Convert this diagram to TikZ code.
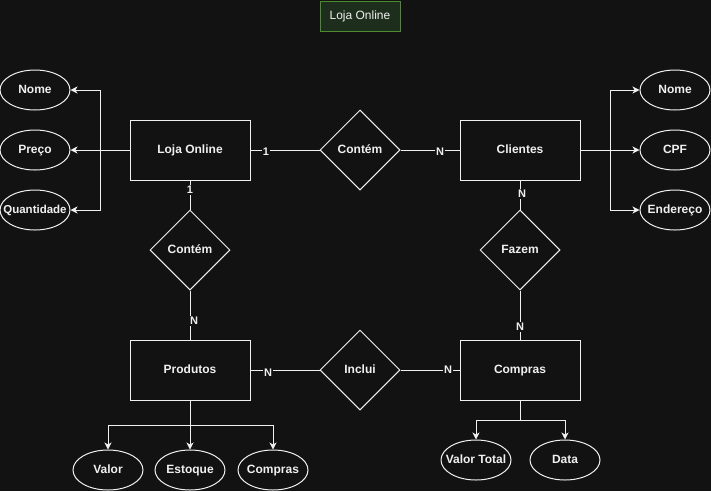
\documentclass[tikz,border=0pt]{standalone}
\usepackage{fontspec}
\setmainfont{Liberation Sans}
\usetikzlibrary{shapes.geometric,arrows.meta}
\definecolor{bg}{HTML}{121212}
\definecolor{fg}{HTML}{F0F0F0}
\definecolor{tfill}{HTML}{1E2E1C}
\definecolor{tborder}{HTML}{4C8C2E}
\newcommand{\zb}[1]{\makebox[0pt]{#1}}
\tikzset{
  ent/.style={draw=fg, line width=1pt, fill=bg, minimum width=120pt, minimum height=60pt, inner sep=0pt, text=fg, text height=9pt, text depth=2.5pt, font=\fontsize{12}{14}\selectfont\bfseries},
  rel/.style={draw=fg, line width=1pt, fill=bg, diamond, minimum width=80pt, minimum height=80pt, inner sep=0pt, text=fg, text height=9pt, text depth=2.5pt, font=\fontsize{12}{14}\selectfont\bfseries},
  attr/.style={draw=fg, line width=1pt, fill=bg, ellipse, minimum width=70pt, minimum height=40pt, inner sep=0pt, text=fg, text height=9pt, text depth=2.5pt, font=\fontsize{12}{14}\selectfont\bfseries},
  conn/.style={draw=fg, line width=1pt},
  arr/.style={draw=fg, line width=1pt, -{Stealth[length=7pt,width=7pt,inset=2pt]}},
  card/.style={fill=bg, text=fg, inner sep=1pt, font=\fontsize{11}{12}\selectfont\bfseries},
}
\begin{document}
\begin{tikzpicture}[x=1pt,y=-1pt]
\fill[bg] (0,0) rectangle (711,491);
\useasboundingbox (0,0) rectangle (711,491);
% title
\node[draw=tborder, fill=tfill, line width=1pt, minimum width=80pt, minimum height=30pt, inner sep=0pt, text=fg, text height=9pt, text depth=2.5pt, font=\fontsize{12}{14}\selectfont] (title) at (360,16) {Loja Online};
% entities
\node[ent] (loja) at (190,150) {Loja Online};
\node[ent] (cli) at (520,150) {Clientes};
\node[ent] (prod) at (190,370) {Produtos};
\node[ent] (comp) at (520,370) {Compras};
% relationships
\node[rel] (contem1) at (360,150) {\zb{Contém}};
\node[rel] (contem2) at (190,250) {\zb{Contém}};
\node[rel] (fazem) at (520,250) {\zb{Fazem}};
\node[rel] (inclui) at (360,370) {\zb{Inclui}};
% attributes
\node[attr] (lnome) at (35,90) {\zb{Nome}};
\node[attr] (lpreco) at (35,150) {\zb{Preço}};
\node[attr] (lqtd) at (35,210) {\zb{\fontsize{11.5}{14}\selectfont Quantidade}};
\node[attr] (cnome) at (675,90) {\zb{Nome}};
\node[attr] (ccpf) at (675,150) {\zb{CPF}};
\node[attr] (cend) at (675,210) {\zb{Endereço}};
\node[attr] (pvalor) at (108,470) {\zb{Valor}};
\node[attr] (pest) at (190,470) {\zb{Estoque}};
\node[attr] (pcomp) at (273,470) {\zb{Compras}};
\node[attr] (cvt) at (476,460) {\zb{Valor Total}};
\node[attr] (cdata) at (565,460) {\zb{Data}};
% relationship connectors
\draw[conn] (loja.east) -- (contem1.west);
\draw[conn] (contem1.east) -- (cli.west);
\draw[conn] (loja.south) -- (contem2.north);
\draw[conn] (contem2.south) -- (prod.north);
\draw[conn] (cli.south) -- (fazem.north);
\draw[conn] (fazem.south) -- (comp.north);
\draw[conn] (prod.east) -- (inclui.west);
\draw[conn] (inclui.east) -- (comp.west);
% cardinalities
\node[card] (c1) at (266,152) {1};
\node[card] (c2) at (440,152) {N};
\node[card] (c3) at (190,190) {1};
\node[card] (c4) at (194,321) {N};
\node[card] (c5) at (522,194) {N};
\node[card] (c6) at (520,327) {N};
\node[card] (c7) at (268,373) {N};
\node[card] (c8) at (448,370) {N};
% attribute connectors
\coordinate (lb) at (100,150);
\coordinate (rb) at (610,150);
\draw[arr] (loja.west) -- (lb) |- (lnome.east);
\draw[arr] (loja.west) -- (lpreco.east);
\draw[arr] (loja.west) -- (lb) |- (lqtd.east);
\draw[arr] (cli.east) -- (rb) |- (cnome.west);
\draw[arr] (cli.east) -- (ccpf.west);
\draw[arr] (cli.east) -- (rb) |- (cend.west);
\coordinate (pb) at (190,425);
\draw[arr] (prod.south) -- (pb) -| (pvalor.north);
\draw[arr] (prod.south) -- (pest.north);
\draw[arr] (prod.south) -- (pb) -| (pcomp.north);
\coordinate (cb) at (520,420);
\draw[arr] (comp.south) -- (cb) -| (cvt.north);
\draw[arr] (comp.south) -- (cb) -| (cdata.north);
\end{tikzpicture}
\end{document}
